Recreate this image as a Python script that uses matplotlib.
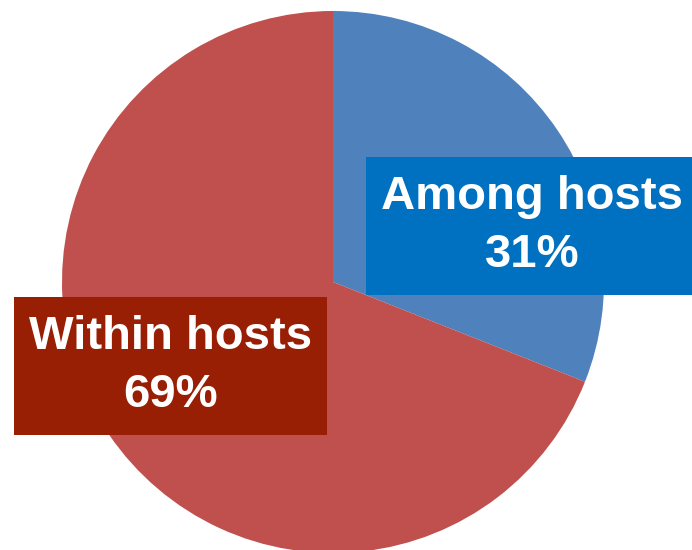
import matplotlib
matplotlib.use("Agg")
import matplotlib.pyplot as plt
from matplotlib.patches import Rectangle

categories = ["Among hosts", "Within hosts"]
shares = [31, 69]
slice_colors = ["#4F81BD", "#C0504D"]
box_colors = ["#0070C0", "#981E04"]

W, H = 692, 550
fig = plt.figure(figsize=(W / 100, H / 100), dpi=100)
ax = fig.add_axes([0, 0, 1, 1])
ax.set_xlim(0, W)
ax.set_ylim(H, 0)
ax.set_aspect("equal")
ax.axis("off")

# pie drawn in pixel-space coordinates (y axis inverted, so flip direction)
ax.pie(shares, colors=slice_colors, startangle=-90, counterclock=True,
       center=(333, 282), radius=271, frame=True,
       wedgeprops=dict(linewidth=0))
ax.set_xlim(0, W)
ax.set_ylim(H, 0)
ax.axis("off")

# label boxes: (x0, y0, x1, y1) and text centre x
boxes = [(366, 157, 692, 295, 532), (14, 297, 327, 435, 171)]
for (x0, y0, x1, y1, cx), name, val, bc in zip(boxes, categories, shares, box_colors):
    ax.add_patch(Rectangle((x0, y0), x1 - x0, y1 - y0, facecolor=bc,
                           edgecolor="none", zorder=3))
    ymid = (y0 + y1) / 2
    ax.text(cx, ymid - 29, name, ha="center", va="center", color="white",
            fontsize=34, fontweight="bold", family="Liberation Sans", zorder=4)
    ax.text(cx, ymid + 29, f"{val}%", ha="center", va="center", color="white",
            fontsize=34, fontweight="bold", family="Liberation Sans", zorder=4)

fig.savefig("out.png", dpi=100)
